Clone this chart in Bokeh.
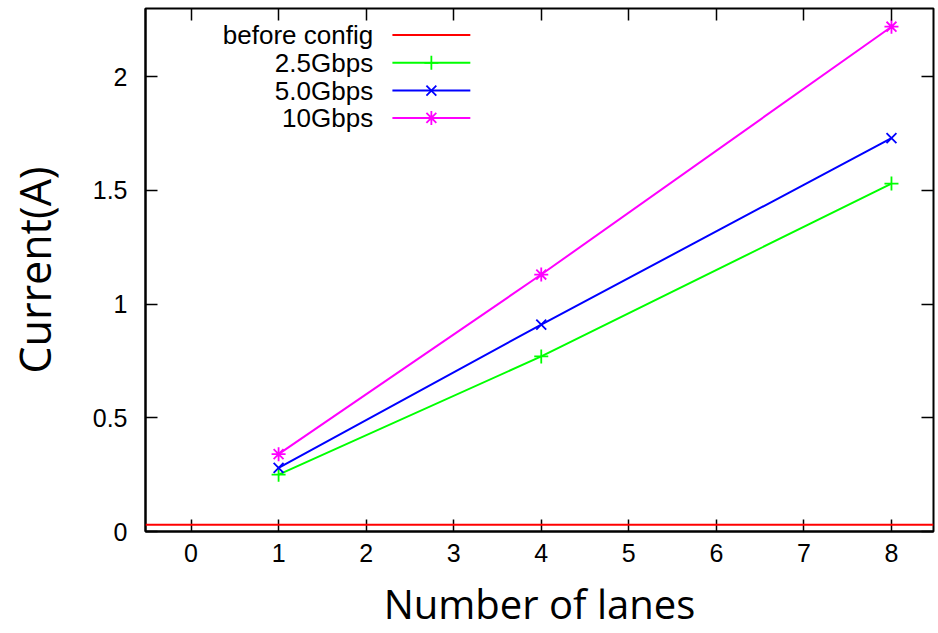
from bokeh.plotting import figure
from bokeh.models import FixedTicker, LinearAxis, Range1d, Span, Label
from bokeh.embed import file_html
from bokeh.resources import INLINE

# ---- data ----
lanes = [1, 4, 8]
gbps_2_5 = [0.25, 0.77, 1.53]
gbps_5_0 = [0.28, 0.91, 1.73]
gbps_10 = [0.34, 1.13, 2.22]
before_config = [0.03]
x_ticks = [0, 1, 2, 3, 4, 5, 6, 7, 8]
y_ticks = [0, 0.5, 1, 1.5, 2]
y_tick_labels = ["0", "0.5", "1", "1.5", "2"]
series_names = ["before config", "2.5Gbps", "5.0Gbps", "10Gbps"]
series_colors = ["#ff0000", "#00ff00", "#0000ff", "#ff00ff"]
series_markers = [None, "cross", "x", "asterisk"]

TICK_FONT = "Liberation Sans"
LABEL_FONT = "Open Sans"

p = figure(width=938, height=633, output_backend="svg", toolbar_location=None,
           x_range=Range1d(-0.52, 8.48), y_range=Range1d(0, 2.3),
           min_border_left=145, min_border_right=5, min_border_top=8,
           min_border_bottom=102)
p.frame_width = 788
p.frame_height = 523
p.grid.visible = False
p.outline_line_color = "black"
p.outline_line_width = 2
p.background_fill_color = "white"
p.border_fill_color = "white"

xa = p.xaxis[0]
xa.ticker = FixedTicker(ticks=x_ticks)
xa.axis_label = "Number of lanes"
ya = p.yaxis[0]
ya.ticker = FixedTicker(ticks=y_ticks)
ya.major_label_overrides = {t: l for t, l in zip(y_ticks, y_tick_labels)}
ya.axis_label = "Current(A)"

for ax in (xa, ya):
    ax.major_tick_in = 12
    ax.major_tick_out = 0
    ax.minor_tick_line_color = None
    ax.major_tick_line_width = 1.5
    ax.axis_line_width = 2
    ax.major_label_text_font = TICK_FONT
    ax.major_label_text_font_size = "25px"
    ax.major_label_text_color = "black"
    ax.axis_label_text_font = LABEL_FONT
    ax.axis_label_text_font_style = "normal"
    ax.axis_label_text_color = "black"
xa.axis_label_text_font_size = "40px"
ya.axis_label_text_font_size = "43px"
xa.major_label_standoff = 12
xa.axis_label_standoff = 11
ya.major_label_standoff = 18
ya.axis_label_standoff = 26

# mirrored ticks (top / right), no labels
top = LinearAxis(ticker=FixedTicker(ticks=x_ticks), major_tick_in=12, major_tick_out=0,
                 major_label_overrides={t: "" for t in x_ticks}, major_label_standoff=0,
                 minor_tick_line_color=None, axis_line_color=None, major_tick_line_width=1.5)
right = LinearAxis(ticker=FixedTicker(ticks=y_ticks), major_tick_in=12, major_tick_out=0,
                   major_label_overrides={t: "" for t in y_ticks}, major_label_standoff=0,
                   minor_tick_line_color=None, axis_line_color=None, major_tick_line_width=1.5)
p.add_layout(top, "above")
p.add_layout(right, "right")

# before config line
p.add_layout(Span(location=before_config[0], dimension="width",
                  line_color=series_colors[0], line_width=2))

# series
for vals, color, marker in zip([gbps_2_5, gbps_5_0, gbps_10], series_colors[1:], series_markers[1:]):
    p.line(lanes, vals, line_color=color, line_width=2)
    p.scatter(lanes, vals, marker=marker, size=14, line_color=color, line_width=1.8)

# gnuplot-style legend (text right, sample on the right)
leg_rows_y = [2.184, 2.061, 1.939, 1.819]
leg_text_x = 2.08
leg_line_x = [2.30, 3.19]
leg_mark_x = 2.745
for i, (name, color, marker) in enumerate(zip(series_names, series_colors, series_markers)):
    y = leg_rows_y[i]
    p.add_layout(Label(x=leg_text_x, y=y, text=name, text_align="right",
                       text_baseline="middle", text_font=TICK_FONT,
                       text_font_size="26px", text_color="black"))
    p.line(leg_line_x, [y, y], line_color=color, line_width=2)
    if marker:
        p.scatter([leg_mark_x], [y], marker=marker, size=14, line_color=color, line_width=1.8)

open("out.html", "w").write(file_html(p, INLINE))
